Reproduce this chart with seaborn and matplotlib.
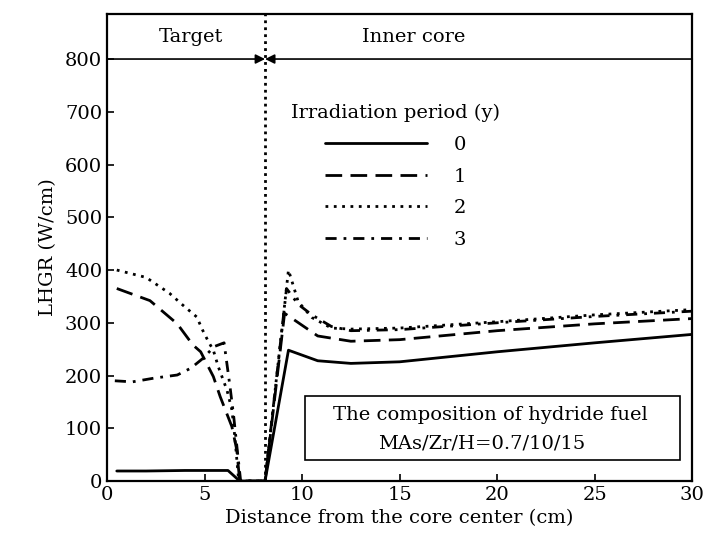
import matplotlib
matplotlib.use("Agg")
import matplotlib.pyplot as plt
import pandas as pd
import seaborn as sns
from matplotlib.patches import Rectangle

sns.set_theme(style="ticks")
plt.rcParams["font.family"] = ["DejaVu Serif"]
plt.rcParams.update({
    "text.color": "black", "axes.labelcolor": "black", "axes.edgecolor": "black",
    "xtick.color": "black", "ytick.color": "black",
})

# ---------------------------------------------------------------------------
# Données (distance en cm, LHGR en W/cm)
# ---------------------------------------------------------------------------
x_0 = [0.5, 2.0, 4.0, 6.2, 6.8, 8.1, 9.3, 10.8, 12.5, 15, 20, 25, 30]
y_0 = [19, 19, 20, 20, 0, 0, 248, 228, 223, 226, 245, 262, 278]

x_1 = [0.5, 2.2, 3.6, 4.4, 4.8, 5.45, 5.8, 6.4, 6.65, 6.8, 8.1, 9.1, 10.8, 12.5, 15, 20, 25, 30]
y_1 = [365, 342, 298, 258, 245, 198, 160, 103, 59, 0, 0, 318, 275, 265, 268, 285, 298, 308]

x_2 = [0.5, 2.0, 3.2, 3.9, 4.6, 4.9, 5.2, 5.45, 5.7, 6.15, 6.4, 6.55, 6.75, 8.1, 9.3, 9.8, 10.5, 11.5, 12.5, 15, 20, 25, 30]
y_2 = [400, 386, 356, 333, 311, 286, 264, 248, 217, 172, 135, 84, 0, 0, 400, 340, 310, 290, 288, 290, 302, 315, 325]

x_3 = [0.4, 1.3, 2.4, 3.6, 4.3, 4.9, 5.5, 6.0, 6.3, 6.5, 6.7, 6.85, 8.1, 9.2, 9.8, 10.5, 11.5, 12.5, 15, 20, 25, 30]
y_3 = [190, 188, 195, 201, 214, 232, 255, 262, 180, 120, 50, 0, 0, 365, 335, 315, 293, 285, 287, 300, 312, 322]

periodes = ["0", "1", "2", "3"]
series_x = [x_0, x_1, x_2, x_3]
series_y = [y_0, y_1, y_2, y_3]

df = pd.concat(
    [pd.DataFrame({"distance": xs, "lhgr": ys, "periode": p})
     for p, xs, ys in zip(periodes, series_x, series_y)],
    ignore_index=True,
)

STYLES = {
    "0": "",
    "1": (6, 3),
    "2": (1, 2.0),
    "3": (4, 2.5, 1, 2.5),
}

fig = plt.figure(figsize=(7.06, 5.46), dpi=100)
ax = fig.add_axes([0.1516, 0.119, 0.829, 0.855])

sns.lineplot(
    data=df, x="distance", y="lhgr", hue="periode", style="periode",
    palette={p: "black" for p in periodes}, dashes=STYLES,
    sort=False, estimator=None, linewidth=2.0, ax=ax,
)

# Limite cible / coeur interne
ax.axvline(8.1, color="black", linestyle=(0, (1, 1.5)), linewidth=2)
ax.annotate("", xy=(8.1, 800), xytext=(0, 800),
            arrowprops=dict(arrowstyle="-|>", color="black", lw=1.2,
                            mutation_scale=14, shrinkA=0, shrinkB=0))
ax.annotate("", xy=(8.1, 800), xytext=(30, 800),
            arrowprops=dict(arrowstyle="-|>", color="black", lw=1.2,
                            mutation_scale=14, shrinkA=0, shrinkB=0))
ax.text(4.3, 842, "Target", ha="center", va="center", fontsize=14)
ax.text(15.7, 842, "Inner core", ha="center", va="center", fontsize=14)

# Encadré composition
ax.add_patch(Rectangle((0.338, 0.045), 0.641, 0.138, transform=ax.transAxes,
                       fill=False, edgecolor="black", linewidth=1.2))
ax.text(0.655, 0.141, "The composition of hydride fuel", transform=ax.transAxes,
        ha="center", va="center", fontsize=14)
ax.text(0.64, 0.081, "MAs/Zr/H=0.7/10/15", transform=ax.transAxes,
        ha="center", va="center", fontsize=14)

ax.set_xlim(0, 30)
ax.set_ylim(0, 885)
ax.set_xticks(range(0, 31, 5))
ax.set_yticks(range(0, 801, 100))
ax.tick_params(direction="in", labelsize=14, length=5, width=1.2)
for s in ax.spines.values():
    s.set_linewidth(1.6)
ax.set_xlabel("Distance from the core center (cm)", fontsize=14, labelpad=4)
ax.set_ylabel("LHGR (W/cm)", fontsize=14, labelpad=6)

sns.move_legend(
    ax, "upper left", bbox_to_anchor=(0.285, 0.845),
    title="Irradiation period (y)", frameon=False, fontsize=14,
    title_fontsize=14, handlelength=5.2, handletextpad=1.4, labelspacing=0.7,
)
for line in ax.get_legend().get_lines():
    line.set_linewidth(2.0)

fig.savefig("out.png", dpi=100)
